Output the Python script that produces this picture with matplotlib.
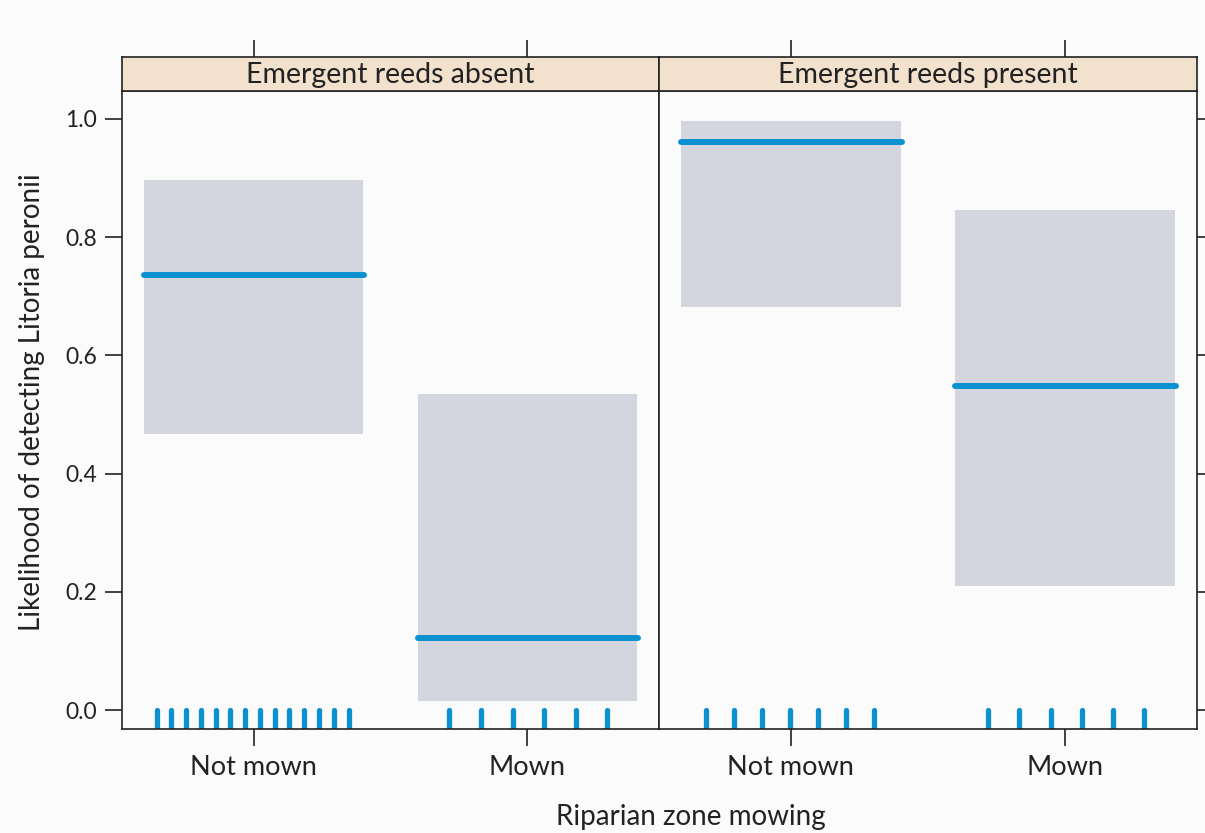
import numpy as np
import matplotlib
matplotlib.use("Agg")
import matplotlib.pyplot as plt

plt.rcParams["font.family"] = ["Lato", "DejaVu Sans"]

# facets and categories
panels = ["Emergent reeds absent", "Emergent reeds present"]
categories = ["Not mown", "Mown"]

# fitted likelihood and 95% interval per panel, per category
fit = [[0.736, 0.122], [0.961, 0.548]]
lower = [[0.467, 0.015], [0.682, 0.210]]
upper = [[0.897, 0.535], [0.997, 0.846]]

# rug: observed site positions (jittered around category centre)
rug_x = [
    [np.linspace(-0.354, 0.347, 14), np.linspace(-0.285, 0.292, 6)],
    [np.linspace(-0.307, 0.303, 7), np.linspace(-0.281, 0.288, 6)],
]

yticks = [0.0, 0.2, 0.4, 0.6, 0.8, 1.0]

BLUE = "#0b91d1"
BAND = "#d3d6de"
STRIP = "#f2e1cd"
BG = "#fbfbfb"
INK = "#222222"

fig = plt.figure(figsize=(12.05, 8.33), dpi=100, facecolor=BG)

lefts = [122 / 1205, 659 / 1205]
widths = [537 / 1205, 538 / 1205]
bottom, height = 1 - 729 / 833, (729 - 91) / 833
sbottom, sheight = 1 - 91 / 833, 34 / 833
xlim = (0.52, 2.48)
ylim = (-0.032, 1.047)

for p in range(2):
    ax = fig.add_axes([lefts[p], bottom, widths[p], height], facecolor=BG)
    sx = fig.add_axes([lefts[p], sbottom, widths[p], sheight], facecolor=STRIP)
    for c in range(2):
        xc = c + 1
        ax.add_patch(plt.Rectangle((xc - 0.4, lower[p][c]), 0.8,
                                   upper[p][c] - lower[p][c],
                                   facecolor=BAND, edgecolor="none", zorder=1))
        ax.plot([xc - 0.4, xc + 0.405], [fit[p][c]] * 2, color=BLUE, lw=4.3,
                solid_capstyle="round", zorder=3)
        for r in rug_x[p][c]:
            ax.plot([xc + r] * 2, [ylim[0], 0.0], color=BLUE, lw=3.8,
                    solid_capstyle="round", zorder=2, clip_on=True)
    ax.set_xlim(*xlim)
    ax.set_ylim(*ylim)
    ax.set_xticks([1, 2])
    ax.set_xticklabels(categories, fontsize=19.5, color=INK)
    ax.set_yticks(yticks)
    if p == 0:
        ax.set_yticklabels([f"{v:.1f}" for v in yticks], fontsize=16.5, color=INK)
        ax.tick_params(axis="y", left=True, right=False, direction="out",
                       length=12, width=1.2, pad=6, colors=INK)
    else:
        ax.tick_params(axis="y", left=False, right=True, labelleft=False,
                       direction="out", length=12, width=1.2, colors=INK)
    ax.tick_params(axis="x", direction="out", length=12, width=1.2, pad=7,
                   colors=INK)
    for s in ax.spines.values():
        s.set_linewidth(1.2)
        s.set_color(INK)

    sx.set_xlim(*xlim)
    sx.set_ylim(0, 1)
    sx.set_xticks([1, 2])
    sx.set_yticks([])
    sx.tick_params(axis="x", top=True, bottom=False, labeltop=False,
                   labelbottom=False, direction="out", length=12, width=1.2,
                   colors=INK)
    sx.text(0.5, 0.47, panels[p], transform=sx.transAxes, ha="center",
            va="center", fontsize=20.5, color=INK)
    for s in sx.spines.values():
        s.set_linewidth(1.2)
        s.set_color(INK)

fig.text(32 / 1205, 1 - 402 / 833, "Likelihood of detecting Litoria peronii",
         rotation=90, ha="center", va="center", fontsize=20, color=INK)
fig.text(691 / 1205, 1 - 817 / 833, "Riparian zone mowing", ha="center",
         va="center", fontsize=20, color=INK)

fig.savefig("out.png", dpi=100, facecolor=BG)
